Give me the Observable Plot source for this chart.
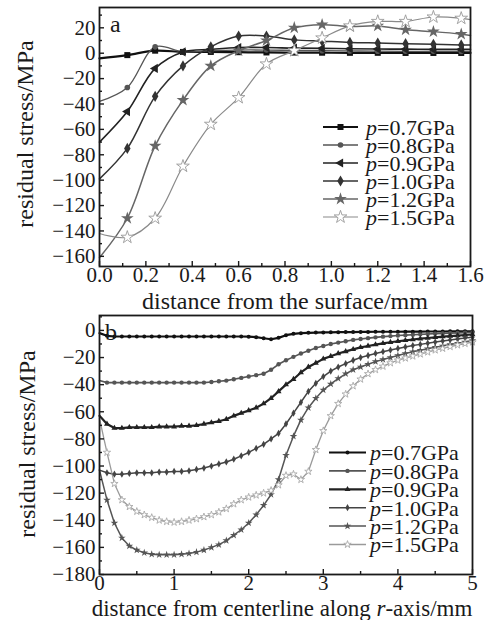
<!DOCTYPE html>
<html>
<head>
<meta charset="utf-8">
<script src="https://cdn.jsdelivr.net/npm/d3@7"></script>
<script src="https://cdn.jsdelivr.net/npm/@observablehq/plot@0.6"></script>
<style>
html,body{margin:0;padding:0;background:#fff;}
#chart{position:relative;width:493px;height:620px;overflow:hidden;}
#chart svg{display:block;}
</style>
</head>
<body>
<div id="chart"></div>
<script>
// ---------- data ----------
const pressures = ["0.7", "0.8", "0.9", "1.0", "1.2", "1.5"];

// panel a: residual stress vs distance from the surface (mm)
const depthA = [0, 0.12, 0.24, 0.36, 0.48, 0.60, 0.72, 0.84, 0.96, 1.08, 1.20, 1.32, 1.44, 1.56, 1.60];
const stressA07 = [-4, -1.5, 2, 1, 1, 0.8, 0.6, 0.5, 0.4, 0.3, 0.3, 0.2, 0.2, 0.2, 0.2];
const stressA08 = [-38, -27, 5, 1, 2, 2.5, 2.5, 2.2, 2, 1.8, 1.6, 1.5, 1.5, 1.4, 1.4];
const stressA09 = [-70, -46, -12, 1, 3, 4.5, 4.5, 4, 3.8, 3.5, 3.3, 3.2, 3, 3, 3];
const stressA10 = [-99, -75, -34, -10, 5, 13.5, 13.5, 10.5, 9.5, 8.5, 8, 7.5, 7, 6.5, 6.5];
const stressA12 = [-161, -130, -73, -37, -10, 2, 10, 20, 22.5, 21, 21.5, 18.5, 17, 15, 14];
const stressA15 = [-142, -145, -130, -89, -56, -35, -8.5, 2, 12, 21.5, 25, 25, 28.5, 27.5, 26.5];

const xTicksA = [0, 0.2, 0.4, 0.6, 0.8, 1.0, 1.2, 1.4, 1.6];
const xMinorA = [0.1, 0.3, 0.5, 0.7, 0.9, 1.1, 1.3, 1.5];
const yTicksA = [20, 0, -20, -40, -60, -80, -100, -120, -140, -160];
const yMinorA = [30, 10, -10, -30, -50, -70, -90, -110, -130, -150];

// panel b: residual stress vs distance from centerline along r-axis (mm)
const radiusB = [0, 0.1, 0.2, 0.3, 0.4, 0.5, 0.6, 0.7, 0.8, 0.9,
  1.0, 1.1, 1.2, 1.3, 1.4, 1.5, 1.6, 1.7, 1.8, 1.9,
  2.0, 2.1, 2.2, 2.3, 2.4, 2.5, 2.6, 2.7, 2.8, 2.9,
  3.0, 3.1, 3.2, 3.3, 3.4, 3.5, 3.6, 3.7, 3.8, 3.9,
  4.0, 4.1, 4.2, 4.3, 4.4, 4.5, 4.6, 4.7, 4.8, 4.9, 5.0];
const stressB07 = [-2, -4, -4.5, -4.5, -4.5, -4.5, -4.5, -4.5, -4.5, -4.5,
  -4.5, -4.5, -4.5, -4.5, -4.5, -4.5, -4.5, -4.5, -4.5, -4.5,
  -4.6, -5, -5.8, -6.5, -5.5, -3.5, -2.5, -2, -1.8, -1.6,
  -1.5, -1.4, -1.3, -1.2, -1.2, -1.1, -1.1, -1, -1, -1,
  -1, -0.9, -0.9, -0.9, -0.8, -0.8, -0.8, -0.7, -0.7, -0.7, -0.6];
const stressB08 = [-37, -38.5, -38.5, -38.5, -38.5, -38.5, -38.5, -38.5, -38.5, -38.5,
  -38.5, -38.5, -38.5, -38.5, -38.5, -38, -37.5, -37, -36, -35,
  -34, -33, -32, -29, -25, -22, -19.5, -17, -15, -13,
  -11.5, -10, -9, -8, -7, -6.3, -5.7, -5.1, -4.6, -4.2,
  -3.8, -3.5, -3.2, -2.9, -2.6, -2.4, -2.2, -2, -1.8, -1.6, -1.5];
const stressB09 = [-63, -69, -72, -72, -71.5, -71.5, -71.5, -71.5, -71, -71,
  -71, -70.5, -70.5, -70, -69, -68, -67, -65.5, -63, -61,
  -59, -57, -54, -50, -45, -40, -36, -31, -27, -24,
  -21, -19, -17, -15.5, -14, -12.5, -11.5, -10.5, -9.5, -8.7,
  -8, -7.3, -6.7, -6.1, -5.6, -5.1, -4.6, -4.2, -3.8, -3.4, -3];
const stressB10 = [-103, -105, -106, -106, -105.5, -105, -105, -105, -104.5, -104.5,
  -104, -104, -103.5, -102.5, -101.5, -100, -98.5, -97, -95, -92.5,
  -90, -87, -84, -80, -76, -69, -61, -53, -45, -39,
  -34, -30, -27, -24.5, -22, -20, -18.5, -17, -15.7, -14.5,
  -13.3, -12.2, -11.2, -10.3, -9.4, -8.6, -7.8, -7, -6.3, -5.6, -5];
const stressB12 = [-103, -125, -142, -153, -159, -162, -164, -165, -165.5, -165.5,
  -165.5, -165, -164.5, -163.5, -162, -160, -158, -155, -151, -147,
  -142, -136, -129, -121, -110, -92, -78, -66, -57, -50,
  -44, -39.5, -35.5, -32, -29, -27, -25, -23, -21.5, -20,
  -18.5, -17, -15.8, -14.6, -13.5, -12.4, -11.4, -10.4, -9.4, -8.5, -7.5];
const stressB15 = [-65, -90, -113, -125, -130, -133.5, -136, -138, -140, -141,
  -141.5, -141, -140, -139, -137.5, -136, -134, -131.5, -128, -125,
  -123, -121.5, -120, -118, -114, -107, -106, -110, -104, -88,
  -74, -63, -54, -47, -41, -36, -32, -29, -26.5, -24,
  -22, -20.5, -19, -17.5, -16, -14.5, -13.3, -12, -10.8, -9.7, -8.6];

const xTicksB = [0, 1, 2, 3, 4, 5];
const xMinorB = [0.5, 1.5, 2.5, 3.5, 4.5];
const yTicksB = [0, -20, -40, -60, -80, -100, -120, -140, -160, -180];
const yMinorB = [10, -10, -30, -50, -70, -90, -110, -130, -150, -170];

// ---------- styles ----------
const FONT = "Liberation Serif, Times New Roman, serif";
const INK = "#1a1a1a";
const TICKFS = 21, TITLEFS = 24, LEGFS = 22;

const stylesA = [
  {stroke: "#111", width: 2.2, symbol: "square", fill: "#111", r: 3.4},
  {stroke: "#555", width: 1.3, symbol: "circle", fill: "#555", r: 2.8},
  {stroke: "#222", width: 1.6, symbol: "triangle", rotate: -90, fill: "#222", r: 3.4},
  {stroke: "#333", width: 1.5, symbol: "diamond", fill: "#333", r: 3.4},
  {stroke: "#666", width: 1.5, symbol: "star", fill: "#666", r: 4},
  {stroke: "#8a8a8a", width: 1.2, symbol: "star", fill: "#fff", mstroke: "#9a9a9a", r: 4}
];
const stylesB = [
  {stroke: "#111", width: 2.2, symbol: "circle", fill: "#111", r: 2.0},
  {stroke: "#555", width: 1.6, symbol: "circle", fill: "#555", r: 2.2},
  {stroke: "#222", width: 2.2, symbol: "triangle", fill: "#222", r: 2.2},
  {stroke: "#444", width: 1.5, symbol: "diamond", fill: "#444", r: 2.2},
  {stroke: "#555", width: 1.5, symbol: "star", fill: "#555", r: 2.4},
  {stroke: "#9a9a9a", width: 1.3, symbol: "star", fill: "#fff", mstroke: "#aaa", r: 2.3}
];
const symMap = {square: d3.symbolSquare, circle: d3.symbolCircle, triangle: d3.symbolTriangle,
  diamond: d3.symbolDiamond, star: d3.symbolStar};

function panel(cfg) {
  const plotH = cfg.height - cfg.mt - cfg.mb;
  const plotW = 493 - cfg.ml - cfg.mr;
  const marks = [];
  cfg.series.forEach((ys, i) => {
    const rows = cfg.xs.map((x, j) => ({x, y: ys[j]}));
    const s = cfg.styles[i];
    marks.push(Plot.line(rows, {x: "x", y: "y", stroke: s.stroke, strokeWidth: s.width, curve: cfg.curve}));
  });
  cfg.series.forEach((ys, i) => {
    const rows = cfg.xs.map((x, j) => ({x, y: ys[j]})).filter(cfg.markerFilter);
    const s = cfg.styles[i];
    marks.push(Plot.dot(rows, {x: "x", y: "y", symbol: s.symbol, r: s.r, fill: s.fill,
      stroke: s.mstroke || "none", strokeWidth: 0.9, rotate: s.rotate || 0}));
  });
  marks.push(
    Plot.axisX(cfg.xTicks, {tickSize: -5, tickPadding: cfg.xPad, tickFormat: cfg.xFmt, label: null, stroke: INK, fill: INK, strokeWidth: 1.4}),
    Plot.ruleX(cfg.xMinor, {x: d => d, insetTop: plotH - 3, stroke: INK, strokeWidth: 1.4}),
    Plot.axisY(cfg.yTicks, {tickSize: -5, tickPadding: 9, label: null, stroke: INK, fill: INK, strokeWidth: 1.4}),
    Plot.ruleY(cfg.yMinor, {y: d => d, insetRight: plotW - 3, stroke: INK, strokeWidth: 1.4}),
    Plot.frame({stroke: INK, strokeWidth: 1.8})
  );
  return Plot.plot({
    width: 493, height: cfg.height,
    marginTop: cfg.mt, marginRight: cfg.mr, marginBottom: cfg.mb, marginLeft: cfg.ml,
    x: {domain: cfg.xDomain},
    y: {domain: cfg.yDomain},
    style: {fontFamily: FONT, fontSize: TICKFS + "px", color: INK, background: "#fff", overflow: "visible"},
    marks
  });
}

function decorate(svg, d) {
  const g = d3.select(svg).append("g").attr("font-family", FONT).attr("fill", INK).attr("text-anchor", "start");
  // panel letter
  g.append("text").attr("x", d.letter[1]).attr("y", d.letter[2]).attr("font-size", TITLEFS).text(d.letter[0]);
  // x title
  const xt = g.append("text").attr("x", d.xTitleX).attr("y", d.xTitleY).attr("text-anchor", "middle").attr("font-size", d.xTitleFS);
  d.xTitle.forEach(([t, it]) => xt.append("tspan").attr("font-style", it ? "italic" : null).text(t));
  // y title
  g.append("text").attr("transform", `translate(${d.yTitleX},${d.yTitleY}) rotate(-90)`)
    .attr("text-anchor", "middle").attr("font-size", TITLEFS).text("residual stress/MPa");
  // legend
  pressures.forEach((p, i) => {
    const y = d.leg.y0 + i * d.leg.dy;
    const s = d.styles[i];
    g.append("line").attr("x1", d.leg.x1).attr("x2", d.leg.x2).attr("y1", y).attr("y2", y)
      .attr("stroke", s.stroke).attr("stroke-width", s.width);
    g.append("path").attr("d", d3.symbol(symMap[s.symbol], Math.PI * s.r * s.r)())
      .attr("transform", `translate(${(d.leg.x1 + d.leg.x2) / 2},${y}) rotate(${s.rotate || 0})`)
      .attr("fill", s.fill).attr("stroke", s.mstroke || "none").attr("stroke-width", 0.9);
    const t = g.append("text").attr("x", d.leg.tx).attr("y", y).attr("dy", "0.36em")
      .attr("text-anchor", "start").attr("font-size", LEGFS);
    t.append("tspan").attr("font-style", "italic").text("p");
    t.append("tspan").text(`=${p}GPa`);
  });
}

const chart = document.getElementById("chart");

const svgA = panel({
  xs: depthA, series: [stressA07, stressA08, stressA09, stressA10, stressA12, stressA15], styles: stylesA,
  height: 310, mt: 7, mr: 23, mb: 44, ml: 99,
  xDomain: [0, 1.6], yDomain: [-168, 36],
  xTicks: xTicksA, xMinor: xMinorA, yTicks: yTicksA, yMinor: yMinorA, xPad: 6,
  xFmt: d => d.toFixed(1), curve: "catmull-rom",
  markerFilter: r => r.x > 0 && r.x < 1.59
});
chart.appendChild(svgA);
decorate(svgA, {
  letter: ["a", 110, 32], xTitle: [["distance from the surface/mm", false]], xTitleX: 285, xTitleY: 308.5, xTitleFS: 24,
  yTitleX: 33, yTitleY: 134, styles: stylesA,
  leg: {x1: 323, x2: 358, tx: 366, y0: 127, dy: 18}
});

const svgB = panel({
  xs: radiusB, series: [stressB07, stressB08, stressB09, stressB10, stressB12, stressB15], styles: stylesB,
  height: 310, mt: 5, mr: 21, mb: 46, ml: 99,
  xDomain: [0, 5], yDomain: [-180, 11],
  xTicks: xTicksB, xMinor: xMinorB, yTicks: yTicksB, yMinor: yMinorB, xPad: 5.5,
  xFmt: d => String(d), curve: "linear",
  markerFilter: r => r.x > 0
});
chart.appendChild(svgB);
decorate(svgB, {
  letter: ["b", 105, 30],
  xTitle: [["distance from centerline along ", false], ["r", true], ["-axis/mm", false]], xTitleX: 282, xTitleY: 306, xTitleFS: 23,
  yTitleX: 35, yTitleY: 134, styles: stylesB,
  leg: {x1: 329, x2: 366, tx: 370, y0: 142.5, dy: 18.4}
});
</script>
</body>
</html>
